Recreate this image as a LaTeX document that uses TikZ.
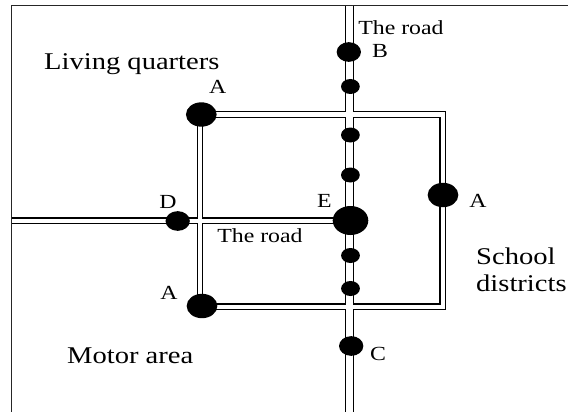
\documentclass[tikz,border=0pt]{standalone}
\usepackage{fontspec}
\setmainfont[FakeStretch=1.19]{Liberation Serif}
\usetikzlibrary{shapes.geometric}
\tikzset{
 roadout/.style={line width=#1,black,line join=miter},
 roadin/.style={line width=#1,white,line join=miter},
 spot/.style={ellipse,fill=black,inner sep=0pt},
 bigspot/.style={spot,minimum width=30.7pt,minimum height=24.4pt},
 hugespot/.style={spot,minimum width=35.6pt,minimum height=29pt},
 midspot/.style={spot,minimum width=24.3pt,minimum height=19.7pt},
 smallspot/.style={spot,minimum width=18.8pt,minimum height=15pt},
 smalllab/.style={inner sep=0pt,anchor=base,font=\fontsize{20}{22}\selectfont},
 biglab/.style={inner sep=0pt,anchor=base west,font=\fontsize{24}{26}\selectfont},
}
\begin{document}
\begin{tikzpicture}[x=1pt,y=-1pt]
\useasboundingbox (0,0) rectangle (568,412);
\fill[white] (0,0) rectangle (568,412);
% frame
\coordinate (fTL) at (11,5.7);
\coordinate (fBL) at (11,412);
\coordinate (fTR) at (568,5.7);
\draw[line width=1pt,black!85] (fBL) -- (fTL) -- (fTR);
% road ends and corners
\coordinate (vT) at (349.3,5.7);
\coordinate (vB) at (349.3,412);
\coordinate (hL) at (11.5,220.8);
\coordinate (hR) at (350,220.8);
\coordinate (cTL) at (200,114.4);
\coordinate (cTR) at (442.7,114.4);
\coordinate (cBR) at (442.7,306.8);
\coordinate (cBL) at (200,306.8);
% roads: black casing first, then the white centres, so that crossings stay open
\draw[roadout=8.6pt] (vT) -- (vB);
\draw[roadout=6.8pt] (hL) -- (hR);
\draw[roadout=6.8pt] (cTL) -- (cTR) -- (cBR) -- (cBL) -- cycle;
\draw[roadin=6.4pt] (vT) -- (vB);
\draw[roadin=4.4pt] (hL) -- (hR);
\draw[roadin=4.4pt] (cTL) -- (cTR) -- (cBR) -- (cBL) -- cycle;
% junctions
\node[bigspot] (Atl) at (201.3,114.5) {};
\node[bigspot] (Abl) at (202,306) {};
\node[bigspot] (Ar) at (443,195) {};
\node[hugespot] (E) at (350.5,220.5) {};
\node[midspot] (B) at (348.8,52) {};
\node[midspot] (C) at (351.2,346) {};
\node[midspot] (D) at (177.7,221) {};
\node[smallspot] (s1) at (350.4,86.5) {};
\node[smallspot] (s2) at (350.4,135) {};
\node[smallspot] (s3) at (350.4,175) {};
\node[smallspot] (s4) at (350.5,255.5) {};
\node[smallspot] (s5) at (350.5,288.5) {};
% labels
\node[smalllab] (tr1) at (401,35) {The road};
\node[smalllab] (tr2) at (260,242) {The road};
\node[smalllab] (lB) at (380,58) {B};
\node[smalllab] (lA1) at (217.7,94) {A};
\node[smalllab] (lD) at (168,208) {D};
\node[smalllab] (lE) at (324.5,207) {E};
\node[smalllab] (lA2) at (169,299) {A};
\node[smalllab] (lC) at (378,360) {C};
\node[smalllab] (lA3) at (478,207) {A};
\node[biglab] (living) at (44,70) {Living quarters};
\node[biglab] (motor) at (67,363) {Motor area};
\node[biglab] (school) at (476,264) {School};
\node[biglab] (dist) at (476,291.7) {districts};
\end{tikzpicture}
\end{document}
